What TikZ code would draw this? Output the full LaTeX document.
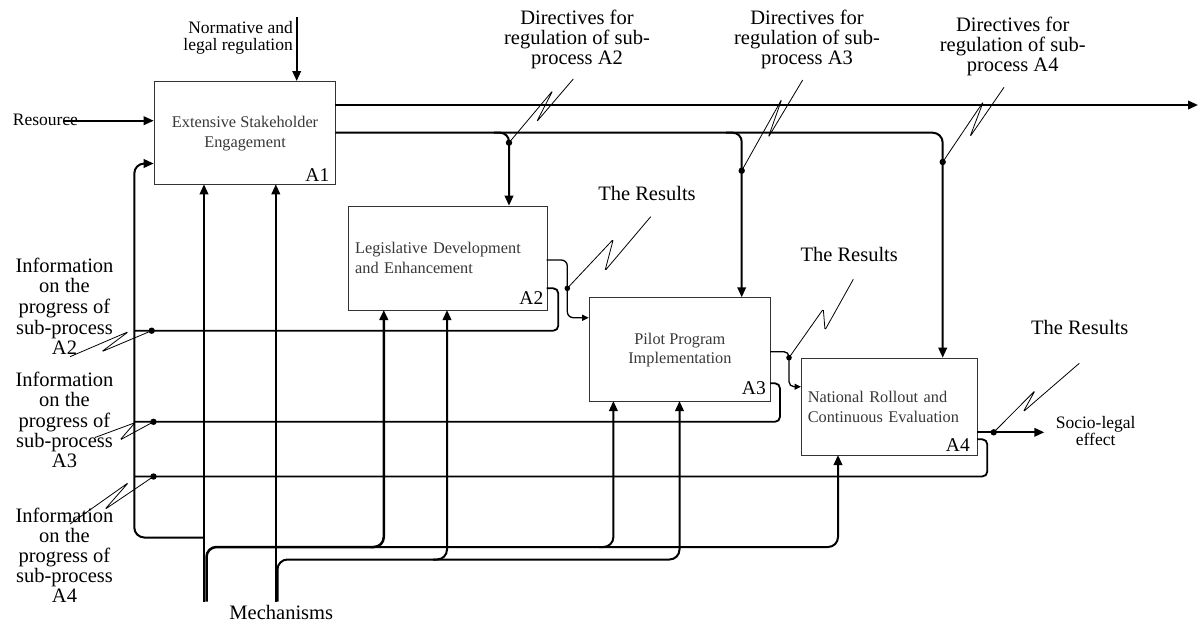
\documentclass[tikz,border=0pt]{standalone}
\usepackage{fontspec}
\setmainfont{Liberation Serif}
\usetikzlibrary{arrows.meta}
\begin{document}
\begin{tikzpicture}[x=1pt,y=-1pt,
  box/.style={draw=black!80, line width=1.1pt, inner sep=0pt, text=black!78,
    font=\fontsize{16.3}{20}\selectfont},
  lbl/.style={inner sep=0pt, font=\fontsize{20.5}{20.5}\selectfont, align=center},
  slbl/.style={inner sep=0pt, font=\fontsize{17.5}{17.2}\selectfont},
  albl/.style={inner sep=0pt, font=\fontsize{19.5}{19.5}\selectfont},
  main/.style={line width=2pt},
  fb/.style={line width=1.8pt, rounded corners=5pt},
  med/.style={line width=1.3pt},
  arr/.style={-{Triangle[length=10pt,width=8.5pt]}},
  sarr/.style={-{Triangle[length=6.5pt,width=6pt]}},
  squig/.style={line width=0.8pt, rounded corners=1.5pt},
]
\useasboundingbox (0,0) rectangle (1203,625);
\fill[white] (0,0) rectangle (1203,625);

% boxes
\node[box, anchor=north west, minimum width=181.6pt, minimum height=103.3pt, align=center]
  (A1) at (153.7,81) {Extensive Stakeholder\\Engagement};
\node[box, anchor=north west, minimum width=198.4pt, minimum height=104.3pt, text width=185.8pt, align=left]
  (A2) at (348.3,205.7) {Legislative Development\\and Enhancement};
\node[box, anchor=north west, minimum width=181.3pt, minimum height=103.7pt, align=center, font=\fontsize{16.3}{19}\selectfont]
  (A3) at (588.7,297.3) {Pilot Program\\Implementation};
\node[box, anchor=north west, minimum width=176pt, minimum height=97.3pt, text width=163.6pt, align=left]
  (A4) at (801,357.7) {National Rollout and\\Continuous Evaluation};

\node[albl, anchor=base east] (nA1) at (329.5,181.7) {A1};
\node[albl, anchor=base east] (nA2) at (543.5,304.5) {A2};
\node[albl, anchor=base east] (nA3) at (766,394) {A3};
\node[albl, anchor=base east] (nA4) at (970,451.5) {A4};

% labels
\node[slbl, align=right, anchor=north east] (norm) at (293,21.35) {Normative and\\legal regulation};
\node[slbl, anchor=base west] (res) at (12.7,125) {Resource};
\node[lbl, anchor=north, font=\fontsize{20.5}{20}\selectfont] (dir2) at (577,10) {Directives for\\regulation of sub-\\process A2};
\node[lbl, anchor=north, font=\fontsize{20.5}{20}\selectfont] (dir3) at (807,10.3) {Directives for\\regulation of sub-\\process A3};
\node[lbl, anchor=north, font=\fontsize{20.5}{20}\selectfont] (dir4) at (1012.7,16.7) {Directives for\\regulation of sub-\\process A4};
\node[lbl, anchor=base] (r2) at (647,200) {The Results};
\node[lbl, anchor=base] (r3) at (849.2,261.7) {The Results};
\node[lbl, anchor=base] (r4) at (1079.7,334.3) {The Results};
\node[slbl, align=center, anchor=north, font=\fontsize{17.5}{16.7}\selectfont] (soc) at (1095.7,416.35) {Socio-legal\\effect};
\node[lbl, anchor=base] (mech) at (281.3,619.5) {Mechanisms};
\node[lbl, anchor=north, font=\fontsize{20.5}{20.6}\selectfont] (i2) at (64.5,257.7) {Information\\on the\\progress of\\sub-process\\A2};
\node[lbl, anchor=north, font=\fontsize{20.5}{20.4}\selectfont] (i3) at (64.5,371.7) {Information\\on the\\progress of\\sub-process\\A3};
\node[lbl, anchor=north, font=\fontsize{20.5}{20.1}\selectfont] (i4) at (64.5,507.7) {Information\\on the\\progress of\\sub-process\\A4};

% junction coordinates
\coordinate (j2) at (509,142.7);
\coordinate (j3) at (741.7,170.7);
\coordinate (j4) at (942.7,162);
\coordinate (k2) at (567.3,288.3);
\coordinate (k3) at (789,357.7);
\coordinate (k4) at (993.7,432.3);
\coordinate (f2) at (151.7,330.7);
\coordinate (f3) at (153.5,421.8);
\coordinate (f4) at (153.5,476.5);

% control and input
\draw[main,arr] (296.7,17) -- (296.7,81);
\draw[main,arr] (63,120.7) -- (153.7,120.7);
\draw[main,arr] (335.3,105) -- (1198,105);
\draw[main,arr,rounded corners=10pt] (335.3,132.7) -- (942.7,132.7) -- (942.7,357.7);
\draw[main,arr,rounded corners=9pt] (494,132.7) -- (509,132.7) -- (509,205.7);
\draw[main,arr,rounded corners=9pt] (726,132.7) -- (741.7,132.7) -- (741.7,297.3);

% mechanisms
\draw[main,arr] (204,601.7) -- (204,184.3);
\draw[main,arr] (275.8,601.7) -- (275.8,184.3);
\draw[line width=2.5pt,arr,rounded corners=10pt] (206.5,601.7) -- (206.5,547) -- (383.8,547) -- (383.8,310);
\draw[main,arr,rounded corners=10pt] (370,547) -- (838,547) -- (838,455);
\draw[main,arr,rounded corners=10pt] (599,547) -- (613.4,547) -- (613.4,401);
\draw[main,arr,rounded corners=10pt] (277.5,601.7) -- (277.5,559.5) -- (679.5,559.5) -- (679.5,401);
\draw[main,arr,rounded corners=10pt] (433,559.5) -- (447,559.5) -- (447,310);

% feedback
\draw[main,arr,rounded corners=10pt] (204,537.5) -- (134.3,537.5) -- (134.3,163.5) -- (153.7,163.5);
\draw[fb] (546.7,288.3) -- (558.3,288.3) -- (558.3,330.7) -- (134.3,330.7);
\draw[fb] (770,383.3) -- (780,383.3) -- (780,421.8) -- (134.3,421.8);
\draw[fb] (977,439.3) -- (987.3,439.3) -- (987.3,476.5) -- (134.3,476.5);

% results
\draw[med,sarr,rounded corners=6pt] (546.7,260) -- (567.3,260) -- (567.3,317.7) -- (588.7,317.7);
\draw[med,sarr,rounded corners=5pt] (770,351.7) -- (789,351.7) -- (789,386.7) -- (801,386.7);
\draw[main,arr] (977,432.3) -- (1044.3,432.3);

% squiggles
\draw[squig] (573.3,79) -- (536.7,121.7) -- (552.7,90.7) -- (j2);
\draw[squig] (802.7,80) -- (768.3,137.3) -- (781.7,99.3) -- (j3);
\draw[squig] (1004,87.3) -- (970,136.7) -- (983.3,101.7) -- (j4);
\draw[squig] (650.7,216.7) -- (605,270.7) -- (613.3,239.3) -- (k2);
\draw[squig] (853.3,279.3) -- (825,330) -- (823.3,309) -- (k3);
\draw[squig] (1079.3,363.3) -- (1023.3,411.7) -- (1035,390.7) -- (k4);
\draw[squig] (70,356.7) -- (128.3,331.7) -- (101.7,351.7) -- (f2);
\draw[squig] (95,437.5) -- (135,422.7) -- (120,440) -- (f3);
\draw[squig] (70,524) -- (128.3,482.7) -- (105,509.3) -- (f4);

% dots
\foreach \p in {j2,j3,j4,f2,f3,f4,k4} \fill (\p) circle (3.2pt);
\foreach \p in {k2,k3} \fill (\p) circle (2.8pt);
\end{tikzpicture}
\end{document}
